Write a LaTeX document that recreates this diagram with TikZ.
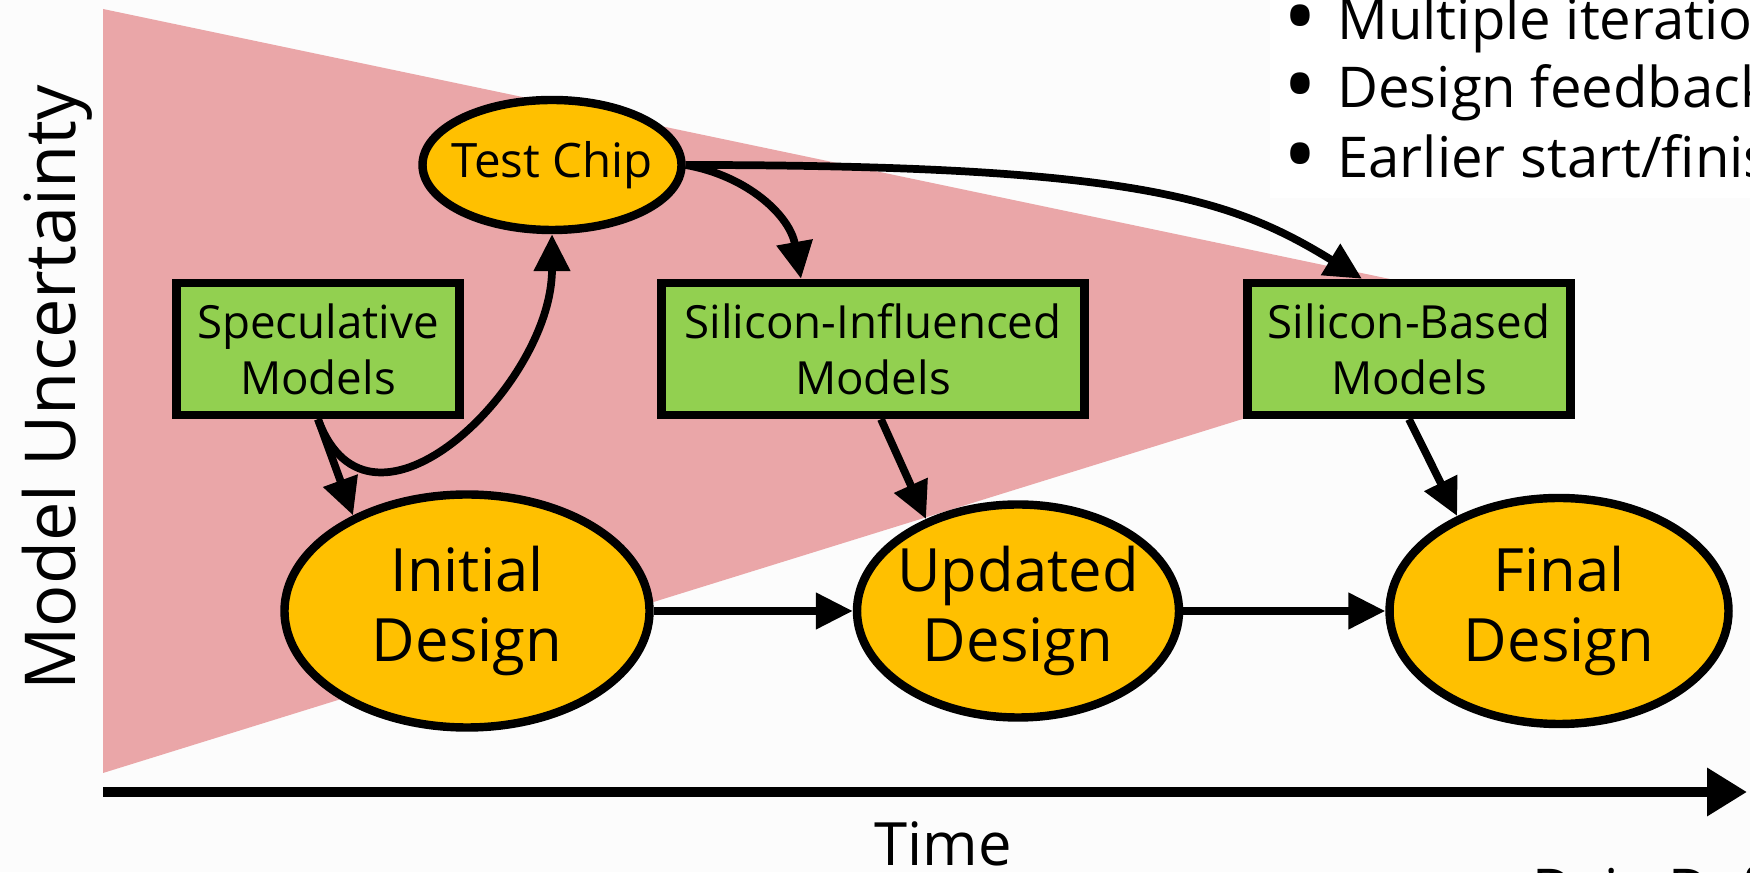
\documentclass[tikz,border=0pt]{standalone}
\usepackage{fontspec}
\setmainfont{Open Sans}
\usetikzlibrary{shapes.geometric, arrows.meta, positioning, calc}
\definecolor{conepink}{HTML}{EAA6A8}
\definecolor{chipgold}{HTML}{FFC000}
\definecolor{modelgreen}{HTML}{92D050}
\definecolor{slidebg}{HTML}{FCFCFC}
\newcommand{\dotmark}{\llap{\smash{\raisebox{-0.09cm}{\scalebox{1.6}{\textbullet}}}\hspace{0.2cm}}}

\begin{document}
\begin{tikzpicture}[
    design/.style={draw, ellipse, line width=2.4pt, fill=chipgold, inner sep=0pt, align=center, font=\fontsize{17}{20}\selectfont},
    model/.style={draw, rectangle, line width=2.4pt, fill=modelgreen, minimum height=1.32cm, inner sep=0pt, align=center, font=\fontsize{13}{16}\selectfont},
    flow/.style={line width=2.2pt, -{Triangle[length=3.7mm, width=3.5mm]}},
    point/.style={anchor=base west, font=\fontsize{16}{19}\selectfont}
]
    % Slide background and bullet panel
    \useasboundingbox (0,0) rectangle (17.5,8.72);
    \clip (0,0) rectangle (17.5,8.72);
    \fill[slidebg] (0,0) rectangle (17.5,8.72);
    \fill[white] (12.7,6.74) rectangle (17.5,8.72);
    % Uncertainty cone
    \fill[conepink] (1.03,8.63) -- (1.03,0.99) -- (15.71,5.55) -- cycle;
    % Axes
    \coordinate (t0) at (1.03,0.80);
    \coordinate (t1) at (17.47,0.80);
    \draw[line width=2.8pt, -{Triangle[length=4mm, width=4.6mm]}] (t0) -- (t1);
    \node[rotate=90, anchor=base, font=\fontsize{20}{24}\selectfont] (ylab) at (0.76,4.84) {Model Uncertainty};
    \node[anchor=base, font=\fontsize{17}{20}\selectfont] (xlab) at (9.43,0.07) {Time};
    % Bullets
    \node[point] (it1) at (13.25,8.32) {\dotmark Multiple iterations};
    \node[point] (it2) at (13.25,7.64) {\dotmark Design feedback};
    \node[point] (it3) at (13.25,6.94) {\dotmark Earlier start/finish};
    \node[point] (src) at (15.20,-0.37) {Dain Def};
    % Models
    \node[model, minimum width=2.83cm] (spec) at (3.18,5.23) {Speculative\\Models};
    \node[model, minimum width=4.23cm] (infl) at (8.73,5.23) {Silicon-Influenced\\Models};
    \node[model, minimum width=3.23cm] (based) at (14.09,5.23) {Silicon-Based\\Models};
    % Test chip and designs
    \node[design, minimum width=2.59cm, minimum height=1.30cm, inner xsep=-0.12cm, font=\fontsize{13.5}{16}\selectfont] (chip) at (5.52,7.07) {Test Chip};
    \node[design, minimum width=3.65cm, minimum height=2.33cm] (init) at (4.67,2.61) {Initial\\Design};
    \node[design, minimum width=3.22cm, minimum height=2.13cm, inner xsep=-0.1cm] (upd) at (10.18,2.61) {Updated\\Design};
    \node[design, minimum width=3.39cm, minimum height=2.26cm] (fin) at (15.59,2.61) {Final\\Design};
    % Connectors
    \draw[flow] (spec.south) -- (init.140);
    \draw[flow] (spec.south) to[out=-70, in=-90, looseness=1.3] (chip.south);
    \draw[flow] (chip.east) to[out=-10, in=100] ([xshift=-0.72cm]infl.north);
    \draw[flow] (chip.east) .. controls +(4.5,0) and +(-1.3,0.8) .. ([xshift=-0.47cm]based.north);
    \draw[flow] ([xshift=0.08cm]infl.south) -- (upd.135);
    \draw[flow] (based.south) -- (fin.137);
    \draw[flow] (init) -- (upd);
    \draw[flow] (upd) -- (fin);
\end{tikzpicture}
\end{document}
